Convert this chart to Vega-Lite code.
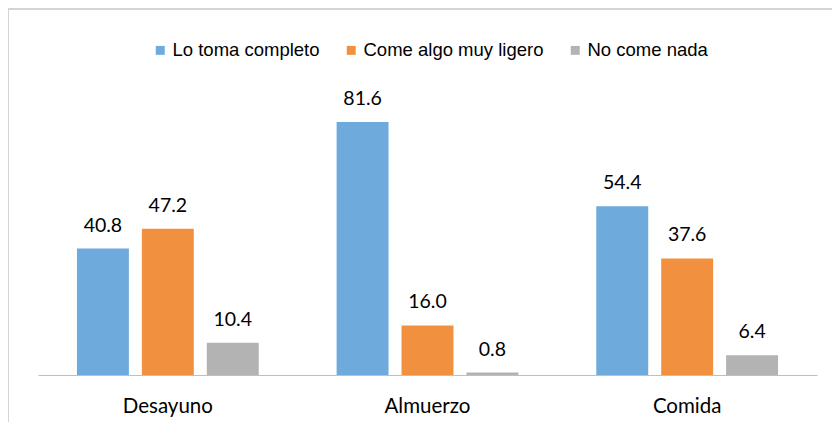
{
  "$schema": "https://vega.github.io/schema/vega-lite/v6.json",
  "autosize": "none",
  "padding": {"left": 8, "top": 9, "right": 0, "bottom": 0},
  "width": 824,
  "height": 413,
  "background": "white",
  "config": {
    "view": {"stroke": null},
    "font": "Lato"
  },
  "data": {
    "values": [
      {"comida": "Desayuno", "serie": "Lo toma completo", "valor": 40.8},
      {"comida": "Desayuno", "serie": "Come algo muy ligero", "valor": 47.2},
      {"comida": "Desayuno", "serie": "No come nada", "valor": 10.4},
      {"comida": "Almuerzo", "serie": "Lo toma completo", "valor": 81.6},
      {"comida": "Almuerzo", "serie": "Come algo muy ligero", "valor": 16.0},
      {"comida": "Almuerzo", "serie": "No come nada", "valor": 0.8},
      {"comida": "Comida", "serie": "Lo toma completo", "valor": 54.4},
      {"comida": "Comida", "serie": "Come algo muy ligero", "valor": 37.6},
      {"comida": "Comida", "serie": "No come nada", "valor": 6.4}
    ]
  },
  "layer": [
    {
      "mark": {"type": "bar"},
      "encoding": {
        "x": {
          "field": "comida",
          "type": "nominal",
          "sort": ["Desayuno", "Almuerzo", "Comida"],
          "scale": {"range": [30, 809], "paddingInner": 0, "paddingOuter": 0},
          "axis": {
            "title": null,
            "labelAngle": 0,
            "labelFont": "Lato",
            "labelFontSize": 20.5,
            "labelColor": "#000000",
            "labelPadding": 21,
            "ticks": false,
            "domainColor": "#bfbfbf",
            "domainWidth": 1,
            "offset": -47
          }
        },
        "xOffset": {
          "field": "serie",
          "type": "nominal",
          "sort": ["Lo toma completo", "Come algo muy ligero", "No come nada"],
          "scale": {"paddingInner": 0.2, "paddingOuter": 0.6}
        },
        "y": {
          "field": "valor",
          "type": "quantitative",
          "scale": {"domain": [-15.16, 118.05], "nice": false, "zero": false},
          "axis": {
            "title": null,
            "labels": false,
            "ticks": false,
            "grid": false,
            "domain": true,
            "domainColor": "#d4d4d4",
            "domainWidth": 1
          }
        },
        "color": {
          "field": "serie",
          "type": "nominal",
          "sort": ["Lo toma completo", "Come algo muy ligero", "No come nada"],
          "scale": {
            "domain": ["Lo toma completo", "Come algo muy ligero", "No come nada"],
            "range": ["#6EABDC", "#F1913F", "#B3B3B3"]
          },
          "legend": {
            "title": null,
            "orient": "none",
            "direction": "horizontal",
            "legendX": 143,
            "legendY": 32,
            "symbolType": "square",
            "symbolSize": 80,
            "symbolOffset": 0,
            "labelFont": "Liberation Sans",
            "labelFontSize": 18.5,
            "labelLimit": 0,
            "labelColor": "#000000",
            "labelOffset": 3,
            "columnPadding": 22
          }
        }
      }
    },
    {
      "mark": {"type": "text", "dy": -23, "fontSize": 19.5, "font": "Lato", "color": "#000000"},
      "encoding": {
        "x": {"field": "comida", "type": "nominal", "sort": ["Desayuno", "Almuerzo", "Comida"]},
        "xOffset": {"field": "serie", "type": "nominal", "sort": ["Lo toma completo", "Come algo muy ligero", "No come nada"]},
        "y": {"field": "valor", "type": "quantitative"},
        "text": {"field": "valor", "type": "quantitative", "format": ".1f"}
      }
    },
    {
      "mark": {"type": "rule", "color": "#d4d4d4", "strokeWidth": 1},
      "encoding": {
        "y": {"datum": 118.05, "type": "quantitative"}
      }
    }
  ]
}
